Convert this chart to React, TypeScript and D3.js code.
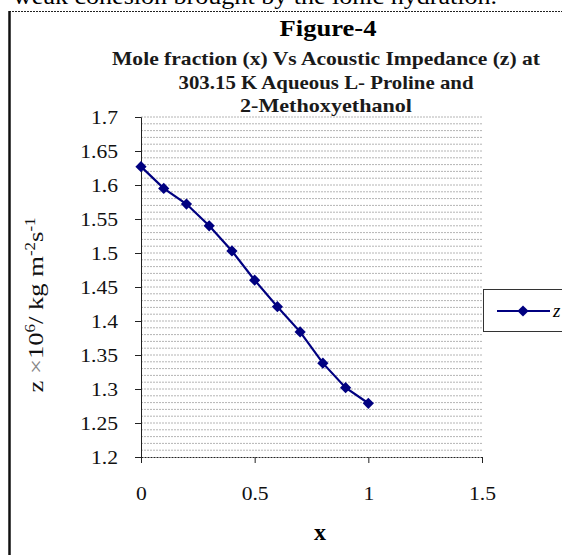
import { useEffect, useRef } from 'react';
import * as d3 from 'd3';

const moleFraction = [0, 0.1, 0.2, 0.3, 0.4, 0.5, 0.6, 0.7, 0.8, 0.9, 1.0];
const impedance = [1.627, 1.595, 1.572, 1.540, 1.503, 1.460, 1.421, 1.384, 1.338, 1.302, 1.279];
const yTicks = [1.2, 1.25, 1.3, 1.35, 1.4, 1.45, 1.5, 1.55, 1.6, 1.65, 1.7];
const xTicks = [0, 0.5, 1, 1.5];
const titleLines = ['Mole fraction (x) Vs Acoustic Impedance (z) at', '303.15 K Aqueous L- Proline and', '2-Methoxyethanol'];
const titleWidths = [428, 295, 172];

export default function App() {
    const svgRef = useRef<SVGSVGElement>(null);
    const width = 562;
    const height = 555;
    const plot = { left: 141, right: 482, top: 117, bottom: 457 };

    useEffect(() => {
        if (!svgRef.current) return;
        const svg = d3.select(svgRef.current);
        svg.selectAll('*').remove();
        const font = '"Liberation Serif", "Times New Roman", serif';

        // the scanned figure is a bit wider than a plain Times rendering
        const widen = (sel: d3.Selection<any, any, any, any>, f = 1.2) => {
            sel.each(function (this: SVGTextElement) {
                const w = this.getComputedTextLength();
                d3.select(this).attr('textLength', w * f).attr('lengthAdjust', 'spacingAndGlyphs');
            });
        };

        const x = d3.scaleLinear().domain([0, 1.5]).range([plot.left, plot.right]);
        const y = d3.scaleLinear().domain([1.2, 1.7]).range([plot.bottom, plot.top]);

        svg.append('rect').attr('width', width).attr('height', height).attr('fill', 'white');

        // cut-off line of body text above the figure
        svg.append('text')
            .attr('x', 13).attr('y', 4)
            .attr('font-family', font).attr('font-size', 24)
            .attr('textLength', 484).attr('lengthAdjust', 'spacingAndGlyphs')
            .text('weak cohesion brought by the ionic hydration.');

        // figure frame
        svg.append('line').attr('x1', 9).attr('x2', width).attr('y1', 11.5).attr('y2', 11.5)
            .attr('stroke', '#222').attr('stroke-width', 1.2).attr('stroke-dasharray', '2,1');
        svg.append('line').attr('x1', 9.5).attr('x2', 9.5).attr('y1', 11).attr('y2', height)
            .attr('stroke', '#111').attr('stroke-width', 2.5);

        // titles
        svg.append('text')
            .attr('x', 328).attr('y', 36)
            .attr('text-anchor', 'middle')
            .attr('font-family', font).attr('font-size', 23).attr('font-weight', 'bold')
            .attr('textLength', 97).attr('lengthAdjust', 'spacingAndGlyphs')
            .text('Figure-4');
        titleLines.forEach((t, i) => {
            svg.append('text')
                .attr('x', 326).attr('y', 65 + i * 23.5)
                .attr('text-anchor', 'middle')
                .attr('font-family', font).attr('font-size', 19).attr('font-weight', 'bold')
                .attr('fill', '#1a1a1a')
                .attr('textLength', titleWidths[i]).attr('lengthAdjust', 'spacingAndGlyphs')
                .text(t);
        });

        // minor gridlines every 0.01
        const grid = d3.range(121, 171).map(v => v / 100);
        svg.append('g').selectAll('line')
            .data(grid)
            .enter()
            .append('line')
            .attr('x1', plot.left).attr('x2', plot.right)
            .attr('y1', d => y(d)).attr('y2', d => y(d))
            .attr('stroke', '#b4b4b4').attr('stroke-width', 1)
            .attr('stroke-dasharray', '2,1');

        // axes
        const yAxis = svg.append('g')
            .attr('transform', `translate(${plot.left},0)`)
            .call(d3.axisLeft(y).tickValues(yTicks).tickSize(6).tickFormat(d => `${d}`));
        yAxis.select('.domain').attr('stroke', '#222');
        yAxis.selectAll('line').attr('stroke', '#222');
        const yLabels = yAxis.selectAll('text')
            .attr('font-family', font).attr('font-size', 18).attr('fill', '#111')
            .attr('x', -23).attr('dy', '0.35em');
        widen(yLabels as any);

        const xAxis = svg.append('g')
            .attr('transform', `translate(0,${plot.bottom})`)
            .call(d3.axisBottom(x).tickValues(xTicks).tickSize(6).tickSizeOuter(0).tickFormat(d => `${d}`));
        xAxis.select('.domain').attr('stroke', '#222').attr('stroke-dasharray', '2,1');
        xAxis.selectAll('line').attr('stroke', '#222');
        const xLabels = xAxis.selectAll('text')
            .attr('font-family', font).attr('font-size', 18).attr('fill', '#111')
            .attr('y', 43).attr('dy', 0);
        widen(xLabels as any);

        // axis titles
        svg.append('text')
            .attr('x', 320).attr('y', 540)
            .attr('text-anchor', 'middle')
            .attr('font-family', font).attr('font-size', 24).attr('font-weight', 'bold')
            .text('x');

        const yl = svg.append('text')
            .attr('transform', 'translate(43,305) rotate(-90)')
            .attr('text-anchor', 'middle')
            .attr('font-family', font).attr('font-size', 22).attr('fill', '#111')
            .attr('textLength', 175).attr('lengthAdjust', 'spacingAndGlyphs');
        yl.append('tspan').text('z ');
        yl.append('tspan').attr('fill', '#888').text('×');
        yl.append('tspan').text('10');
        yl.append('tspan').attr('dy', -8).attr('font-size', 14).text('6');
        yl.append('tspan').attr('dy', 8).text('/ kg m');
        yl.append('tspan').attr('dy', -8).attr('font-size', 14).text('-2');
        yl.append('tspan').attr('dy', 8).text('s');
        yl.append('tspan').attr('dy', -8).attr('font-size', 14).text('-1');

        // series
        const points = moleFraction.map((m, i) => [m, impedance[i]] as [number, number]);
        const line = d3.line<[number, number]>().x(d => x(d[0])).y(d => y(d[1]));
        const navy = '#000080';
        svg.append('path')
            .datum(points)
            .attr('d', line)
            .attr('fill', 'none')
            .attr('stroke', navy)
            .attr('stroke-width', 2.2);
        const diamond = d3.symbol().type(d3.symbolDiamond2).size(80);
        svg.append('g').selectAll('path')
            .data(points)
            .enter()
            .append('path')
            .attr('d', diamond)
            .attr('transform', d => `translate(${x(d[0])},${y(d[1])})`)
            .attr('fill', navy);

        // legend
        svg.append('rect')
            .attr('x', 483.5).attr('y', 289.5).attr('width', 100).attr('height', 42)
            .attr('fill', 'white').attr('stroke', '#333').attr('stroke-width', 1);
        svg.append('line')
            .attr('x1', 497).attr('x2', 550).attr('y1', 311).attr('y2', 311)
            .attr('stroke', navy).attr('stroke-width', 2.2);
        svg.append('path')
            .attr('d', diamond)
            .attr('transform', 'translate(523,311)')
            .attr('fill', navy);
        svg.append('text')
            .attr('x', 553).attr('y', 317)
            .attr('font-family', font).attr('font-size', 19).attr('font-style', 'italic')
            .text('z');
    }, []);

    return (
        <svg
            ref={svgRef}
            width={width}
            height={height}
            viewBox={`0 0 ${width} ${height}`}
            style={{ position: 'fixed', left: 0, top: 0 }}
        />
    );
}
